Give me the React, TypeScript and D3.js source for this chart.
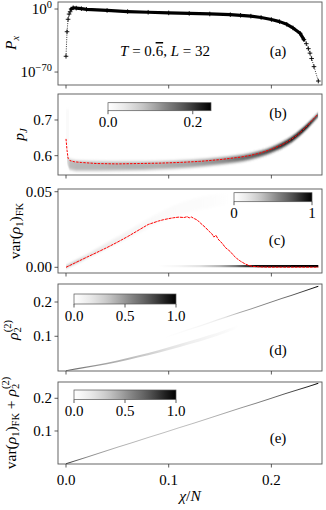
import React, { useEffect, useRef } from "react";
import * as d3 from "d3";

const W = 326;
const H = 510;
const FONT = "'Liberation Serif', 'DejaVu Serif', serif";

// shared x axis (chi / N)
const chiDomain = [-0.0078, 0.2493];
const chiTicks = [0, 0.1, 0.2];
const chiTickLabels = ["0.0", "0.1", "0.2"];

// (a) P_x, stored as log10 values
const aChi = [0, 0.001, 0.002, 0.003, 0.004, 0.005, 0.007, 0.01, 0.015, 0.02, 0.04, 0.06, 0.08, 0.1, 0.12, 0.14, 0.16, 0.17, 0.18, 0.19, 0.2, 0.208, 0.215, 0.221, 0.228, 0.2317, 0.234, 0.236, 0.2376, 0.2392, 0.2415, 0.2457];
const aLogP = [-52.5, -25.2, -11.4, -5.6, -3.0, 0.0, 1.4, 1.0, 0.4, -0.3, -1.6, -2.8, -3.6, -4.3, -4.9, -5.5, -6.3, -7.0, -7.9, -9.4, -11.7, -14, -17, -21, -27, -34, -38.5, -44, -49, -55, -64, -80];

// (b) p_J: mean (red) and histogram band
const bChi = [0, 0.001, 0.002, 0.004, 0.008, 0.015, 0.03, 0.05, 0.07, 0.09, 0.11, 0.13, 0.15, 0.17, 0.18, 0.19, 0.2, 0.21, 0.215, 0.22, 0.225, 0.23, 0.235, 0.24, 0.2445];
const bMean = [0.647, 0.615, 0.593, 0.586, 0.583, 0.581, 0.578, 0.577, 0.578, 0.579, 0.581, 0.584, 0.589, 0.596, 0.601, 0.608, 0.618, 0.630, 0.638, 0.647, 0.657, 0.670, 0.684, 0.700, 0.714];
const bBandChi = [0.001, 0.004, 0.01, 0.03, 0.06, 0.09, 0.12, 0.15, 0.18, 0.2, 0.22, 0.235, 0.2455];
const bBandCenter = [0.590, 0.575, 0.572, 0.571, 0.571, 0.573, 0.577, 0.585, 0.598, 0.616, 0.646, 0.683, 0.714];
const bBandHalf = [0.011, 0.014, 0.014, 0.013, 0.012, 0.011, 0.010, 0.009, 0.008, 0.007, 0.007, 0.006, 0.005];
const bBandValue = [0.05, 0.09, 0.095, 0.095, 0.1, 0.1, 0.11, 0.13, 0.17, 0.2, 0.23, 0.243, 0.2];
const bColChi = [0, 0.003];
const bColCenter = [0.675, 0.675];
const bColHalf = [0.055, 0.055];
const bColValue = [0.01, 0.01];
const bTicks = [0.6, 0.7];
const bTickLabels = ["0.6", "0.7"];
const bBarMax = 0.243;
const bBarTicks = [0, 0.2];
const bBarLabels = ["0.0", "0.2"];

// (c) var(rho_1)_FK
const cChi = [0, 0.01, 0.02, 0.03, 0.04, 0.05, 0.06, 0.07, 0.08, 0.09, 0.095, 0.1, 0.105, 0.11, 0.115, 0.118, 0.12, 0.122, 0.125, 0.128, 0.13, 0.133, 0.136, 0.139, 0.142, 0.144, 0.146, 0.148, 0.15, 0.152, 0.155, 0.158, 0.16, 0.163, 0.166, 0.17, 0.174, 0.178, 0.182, 0.19, 0.2, 0.21, 0.22, 0.23, 0.24, 0.2457];
const cMean = [0, 0.0033, 0.0066, 0.0098, 0.0131, 0.0166, 0.0203, 0.0243, 0.0283, 0.0306, 0.0315, 0.0322, 0.0328, 0.0332, 0.0329, 0.0335, 0.0327, 0.0333, 0.0322, 0.0312, 0.0298, 0.028, 0.0262, 0.024, 0.0222, 0.02, 0.0212, 0.0188, 0.0172, 0.016, 0.0132, 0.0115, 0.0104, 0.008, 0.006, 0.004, 0.0024, 0.0012, 0.0006, 0.0002, 0.0001, 0.0001, 0.0001, 0.0001, 0.0001, 0.0001];
const cUpperChi = [0, 0.02, 0.04, 0.06, 0.08, 0.1, 0.12, 0.14, 0.155, 0.165];
const cUpperCenter = [0.0003, 0.007, 0.0142, 0.0215, 0.029, 0.0355, 0.0405, 0.0435, 0.045, 0.0455];
const cUpperHalf = [0.0006, 0.0012, 0.0018, 0.0024, 0.003, 0.0036, 0.004, 0.0042, 0.0042, 0.004];
const cUpperValue = [0.45, 0.22, 0.14, 0.09, 0.06, 0.045, 0.035, 0.025, 0.012, 0];
const cZeroChi = [0.09, 0.11, 0.13, 0.15, 0.165, 0.175, 0.185, 0.2457];
const cZeroCenter = [0.0008, 0.0008, 0.0008, 0.0008, 0.0008, 0.0008, 0.0008, 0.0008];
const cZeroHalf = [0.0007, 0.0007, 0.0007, 0.0007, 0.0007, 0.0007, 0.0007, 0.0007];
const cZeroValue = [0, 0.08, 0.2, 0.4, 0.6, 0.8, 0.95, 1.0];
const cTicks = [0, 0.05];
const cTickLabels = ["0.00", "0.05"];
const cBarTicks = [0, 1];
const cBarLabels = ["0", "1"];

// (d) rho_2^(2)
const dLowChi = [0, 0.02, 0.04, 0.06, 0.08, 0.1, 0.12, 0.14, 0.155, 0.168];
const dLowCenter = [0, 0.01, 0.021, 0.034, 0.048, 0.064, 0.081, 0.099, 0.114, 0.13];
const dLowHalf = [0.0012, 0.0016, 0.0022, 0.0028, 0.0034, 0.004, 0.0045, 0.0045, 0.0045, 0.004];
const dLowValue = [0.7, 0.55, 0.45, 0.38, 0.3, 0.2, 0.13, 0.08, 0.05, 0];
const dDiagChi = [0.095, 0.12, 0.14, 0.155, 0.17, 0.19, 0.21, 0.23, 0.2457];
const dDiagCenter = [0.095, 0.12, 0.14, 0.155, 0.17, 0.19, 0.21, 0.23, 0.2457];
const dDiagHalf = [0.002, 0.002, 0.002, 0.0018, 0.0016, 0.0015, 0.0015, 0.0015, 0.0015];
const dDiagValue = [0, 0.05, 0.1, 0.2, 0.45, 0.55, 0.62, 0.78, 1.0];
const dTicks = [0.1, 0.2];
const dTickLabels = ["0.1", "0.2"];

// (e) var(rho_1)_FK + rho_2^(2)
const eChi = [0, 0.02, 0.05, 0.08, 0.11, 0.14, 0.17, 0.2, 0.225, 0.2457];
const eCenter = [0, 0.02, 0.05, 0.08, 0.11, 0.14, 0.17, 0.2, 0.225, 0.2457];
const eHalf = [0.0015, 0.0015, 0.0015, 0.0015, 0.0015, 0.0015, 0.0015, 0.0015, 0.0015, 0.0015];
const eValue = [0.85, 0.55, 0.42, 0.37, 0.36, 0.4, 0.5, 0.65, 0.8, 1.0];
const eTicks = [0.1, 0.2];
const eTickLabels = ["0.1", "0.2"];
const unitBarTicks = [0, 0.5, 1];
const unitBarLabels = ["0.0", "0.5", "1.0"];

type Part = { t: string; it?: boolean; sz?: number; off?: number; dx?: number; over?: boolean };

function rich(sel: any, parts: Part[]) {
  let cur = 0;
  parts.forEach((p) => {
    const off = p.off ?? 0;
    const ts = sel.append("tspan").text(p.t).attr("dy", off - cur);
    cur = off;
    if (p.it) ts.attr("font-style", "italic");
    if (p.sz) ts.attr("font-size", p.sz);
    if (p.dx) ts.attr("dx", p.dx);
    if (p.over) ts.attr("text-decoration", "overline");
  });
}

const X0 = 58;
const X1 = 322;

function draw(svg: any) {
  const defs = svg.append("defs");
  const x = d3.scaleLinear().domain(chiDomain).range([X0, X1]);

  const blur = (id: string, sd: string) =>
    defs.append("filter").attr("id", id).attr("x", "-5%").attr("y", "-60%").attr("width", "110%").attr("height", "220%")
      .append("feGaussianBlur").attr("stdDeviation", sd);
  blur("blurWide", "0.4 1.4");
  blur("blurThin", "0.3 0.6");

  const clip = (id: string, top: number, bottom: number) =>
    defs.append("clipPath").attr("id", id).append("rect").attr("x", X0).attr("y", top).attr("width", X1 - X0).attr("height", bottom - top);

  const band = (g: any, id: string, y: any, chi: number[], center: number[], half: number[], value: number[], vmax: number, filter: string) => {
    const a = x(chi[0]);
    const b = x(chi[chi.length - 1]);
    const grad = defs.append("linearGradient").attr("id", id).attr("gradientUnits", "userSpaceOnUse")
      .attr("x1", a).attr("x2", b).attr("y1", 0).attr("y2", 0);
    chi.forEach((c, i) => {
      grad.append("stop").attr("offset", (x(c) - a) / (b - a)).attr("stop-color", d3.interpolateGreys(Math.min(1, value[i] / vmax)));
    });
    const area = d3.area<number>()
      .x((_, i) => x(chi[i]))
      .y0((_, i) => y(center[i] - half[i]))
      .y1((_, i) => y(center[i] + half[i]))
      .curve(d3.curveMonotoneX);
    g.append("path").attr("d", area(chi)).attr("fill", `url(#${id})`).attr("filter", `url(#${filter})`);
  };

  const frame = (top: number, bottom: number) => {
    svg.append("rect").attr("x", X0).attr("y", top).attr("width", X1 - X0).attr("height", bottom - top)
      .attr("fill", "none").attr("stroke", "#555").attr("stroke-width", 0.9);
    chiTicks.forEach((t) => {
      svg.append("line").attr("x1", x(t)).attr("x2", x(t)).attr("y1", bottom).attr("y2", bottom + 3.5)
        .attr("stroke", "#333").attr("stroke-width", 0.8);
    });
  };

  const yTicks = (y: any, ticks: number[], labels: string[]) => {
    ticks.forEach((t, i) => {
      svg.append("line").attr("x1", X0 - 3.5).attr("x2", X0).attr("y1", y(t)).attr("y2", y(t))
        .attr("stroke", "#333").attr("stroke-width", 0.8);
      svg.append("text").attr("x", X0 - 6).attr("y", y(t) + 5).attr("text-anchor", "end")
        .attr("font-family", FONT).attr("font-size", 15).text(labels[i]);
    });
  };

  const yLabel = (bx: number, cy: number, parts: Part[]) => {
    const t = svg.append("text").attr("transform", `translate(${bx},${cy}) rotate(-90)`)
      .attr("text-anchor", "middle").attr("font-family", FONT).attr("font-size", 15.5);
    rich(t, parts);
  };

  const panelTag = (cx: number, by: number, s: string) => {
    svg.append("text").attr("x", cx).attr("y", by).attr("text-anchor", "middle")
      .attr("font-family", FONT).attr("font-size", 15).text(s);
  };

  const colorbar = (id: string, x0: number, x1: number, y0: number, y1: number, vmax: number, ticks: number[], labels: string[]) => {
    const grad = defs.append("linearGradient").attr("id", id).attr("x1", 0).attr("x2", 1).attr("y1", 0).attr("y2", 0);
    d3.range(21).forEach((i) => {
      grad.append("stop").attr("offset", i / 20).attr("stop-color", d3.interpolateGreys(i / 20));
    });
    svg.append("rect").attr("x", x0).attr("y", y0).attr("width", x1 - x0).attr("height", y1 - y0)
      .attr("fill", `url(#${id})`).attr("stroke", "#555").attr("stroke-width", 0.7);
    const s = d3.scaleLinear().domain([0, vmax]).range([x0, x1]);
    ticks.forEach((t, i) => {
      svg.append("line").attr("x1", s(t)).attr("x2", s(t)).attr("y1", y1).attr("y2", y1 + 3.5)
        .attr("stroke", "#333").attr("stroke-width", 0.8);
      svg.append("text").attr("x", s(t)).attr("y", y1 + 16.5).attr("text-anchor", "middle")
        .attr("font-family", FONT).attr("font-size", 15).text(labels[i]);
    });
  };

  const redLine = (g: any, y: any, chi: number[], vals: number[], dash: string) => {
    const line = d3.line<number>().x((_, i) => x(chi[i])).y((v) => y(v));
    g.append("path").attr("d", line(vals)).attr("fill", "none").attr("stroke", "#ff0000")
      .attr("stroke-width", 1).attr("stroke-dasharray", dash);
  };

  // ---------- (a) ----------
  {
    const top = 2, bottom = 85;
    const y = d3.scaleLog().domain([Math.pow(10, -84.4), Math.pow(10, 7.8)]).range([bottom, top]);
    clip("clipA", top, bottom);
    const g = svg.append("g").attr("clip-path", "url(#clipA)");
    const pts = aChi.map((c, i) => [x(c), y(Math.pow(10, aLogP[i]))]);
    const line = d3.line();
    // dense part of the marker trail
    g.append("path").attr("d", line(pts.slice(5, 26) as any)).attr("fill", "none").attr("stroke", "#000")
      .attr("stroke-width", 3.2).attr("stroke-linecap", "round").attr("stroke-linejoin", "round");
    g.append("path").attr("d", line(pts as any)).attr("fill", "none").attr("stroke", "#000")
      .attr("stroke-width", 0.8).attr("stroke-dasharray", "1,1.3");
    g.selectAll("path.mk").data(pts).enter().append("path").attr("class", "mk")
      .attr("d", (p: number[]) => `M${p[0] - 2.3},${p[1]}H${p[0] + 2.3}M${p[0]},${p[1] - 2.3}V${p[1] + 2.3}`)
      .attr("stroke", "#000").attr("stroke-width", 0.9);
    frame(top, bottom);
    [[0, [{ t: "10" }, { t: "0", sz: 10.5, off: -6 }]], [-70, [{ t: "10" }, { t: "−70", sz: 10.5, off: -6 }]]].forEach(([e, parts]: any) => {
      const ty = y(Math.pow(10, e));
      svg.append("line").attr("x1", X0 - 3.5).attr("x2", X0).attr("y1", ty).attr("y2", ty).attr("stroke", "#333").attr("stroke-width", 0.8);
      const t = svg.append("text").attr("x", X0 - 6).attr("y", ty + 5).attr("text-anchor", "end")
        .attr("font-family", FONT).attr("font-size", 15);
      rich(t, parts);
    });
    yLabel(16, 43, [{ t: "P", it: true }, { t: "x", it: true, sz: 10.5, off: 3 }]);
    const ann = svg.append("text").attr("x", 165).attr("y", 56).attr("text-anchor", "middle")
      .attr("font-family", FONT).attr("font-size", 15);
    rich(ann, [{ t: "T", it: true }, { t: " = 0." }, { t: "6", over: true }, { t: ", " }, { t: "L", it: true }, { t: " = 32" }]);
    panelTag(278, 56, "(a)");
  }

  // ---------- (b) ----------
  {
    const top = 94, bottom = 175;
    const y = d3.scaleLinear().domain([0.5459, 0.7728]).range([bottom, top]);
    clip("clipB", top, bottom);
    const g = svg.append("g").attr("clip-path", "url(#clipB)");
    band(g, "gbCol", y, bColChi, bColCenter, bColHalf, bColValue, bBarMax, "blurWide");
    band(g, "gbMain", y, bBandChi, bBandCenter, bBandHalf, bBandValue, bBarMax, "blurWide");
    redLine(g, y, bChi, bMean, "2.4,1.2");
    frame(top, bottom);
    yTicks(y, bTicks, bTickLabels);
    yLabel(24, 134.5, [{ t: "p", it: true }, { t: "J", it: true, sz: 10.5, off: 3 }]);
    colorbar("cbB", 108, 211, 102.7, 110.7, bBarMax, bBarTicks, bBarLabels);
    panelTag(278, 118, "(b)");
  }

  // ---------- (c) ----------
  {
    const top = 189, bottom = 273;
    const y = d3.scaleLinear().domain([-0.00377, 0.05179]).range([bottom, top]);
    clip("clipC", top, bottom);
    const g = svg.append("g").attr("clip-path", "url(#clipC)");
    band(g, "gcUp", y, cUpperChi, cUpperCenter, cUpperHalf, cUpperValue, 1, "blurWide");
    band(g, "gcZero", y, cZeroChi, cZeroCenter, cZeroHalf, cZeroValue, 1, "blurThin");
    redLine(g, y, cChi, cMean, "3,0.8");
    frame(top, bottom);
    yTicks(y, cTicks, cTickLabels);
    yLabel(20, 231, [{ t: "var(" }, { t: "ρ", it: true }, { t: "1", sz: 10.5, off: 3 }, { t: ")" }, { t: "FK", sz: 10.5, off: 3 }]);
    colorbar("cbC", 234, 312, 192.7, 201.7, 1, cBarTicks, cBarLabels);
    panelTag(277, 245, "(c)");
  }

  // ---------- (d) ----------
  {
    const top = 284, bottom = 371;
    const y = d3.scaleLinear().domain([-0.0012, 0.2525]).range([bottom, top]);
    clip("clipD", top, bottom);
    const g = svg.append("g").attr("clip-path", "url(#clipD)");
    band(g, "gdLow", y, dLowChi, dLowCenter, dLowHalf, dLowValue, 1, "blurThin");
    band(g, "gdDiag", y, dDiagChi, dDiagCenter, dDiagHalf, dDiagValue, 1, "blurThin");
    frame(top, bottom);
    yTicks(y, dTicks, dTickLabels);
    yLabel(18, 330, [{ t: "ρ", it: true }, { t: "2", sz: 10.5, off: 3 }, { t: "(2)", sz: 10.5, off: -7, dx: -5.2 }]);
    colorbar("cbD", 74, 176, 294, 304, 1, unitBarTicks, unitBarLabels);
    panelTag(278, 355, "(d)");
  }

  // ---------- (e) ----------
  {
    const top = 382, bottom = 464;
    const y = d3.scaleLinear().domain([-0.0009, 0.2498]).range([bottom, top]);
    clip("clipE", top, bottom);
    const g = svg.append("g").attr("clip-path", "url(#clipE)");
    band(g, "geDiag", y, eChi, eCenter, eHalf, eValue, 1, "blurThin");
    frame(top, bottom);
    yTicks(y, eTicks, eTickLabels);
    yLabel(16, 423, [
      { t: "var(" }, { t: "ρ", it: true }, { t: "1", sz: 10.5, off: 3 }, { t: ")" }, { t: "FK", sz: 10.5, off: 3 },
      { t: " + " }, { t: "ρ", it: true }, { t: "2", sz: 10.5, off: 3 }, { t: "(2)", sz: 10.5, off: -7, dx: -5.2 },
    ]);
    colorbar("cbE", 74, 176, 390, 399.5, 1, unitBarTicks, unitBarLabels);
    panelTag(278, 442.5, "(e)");
    chiTicks.forEach((t, i) => {
      svg.append("text").attr("x", x(t)).attr("y", 485).attr("text-anchor", "middle")
        .attr("font-family", FONT).attr("font-size", 15).text(chiTickLabels[i]);
    });
    const xl = svg.append("text").attr("x", 190).attr("y", 501).attr("text-anchor", "middle")
      .attr("font-family", FONT).attr("font-size", 15.5);
    rich(xl, [{ t: "χ", it: true }, { t: "/" }, { t: "N", it: true }]);
  }
}

export default function App() {
  const ref = useRef<SVGSVGElement>(null);
  useEffect(() => {
    const svg = d3.select(ref.current);
    svg.selectAll("*").remove();
    draw(svg);
  }, []);
  return (
    <svg
      ref={ref}
      width={W}
      height={H}
      style={{ position: "absolute", left: 0, top: 0, background: "#fff" }}
    />
  );
}
